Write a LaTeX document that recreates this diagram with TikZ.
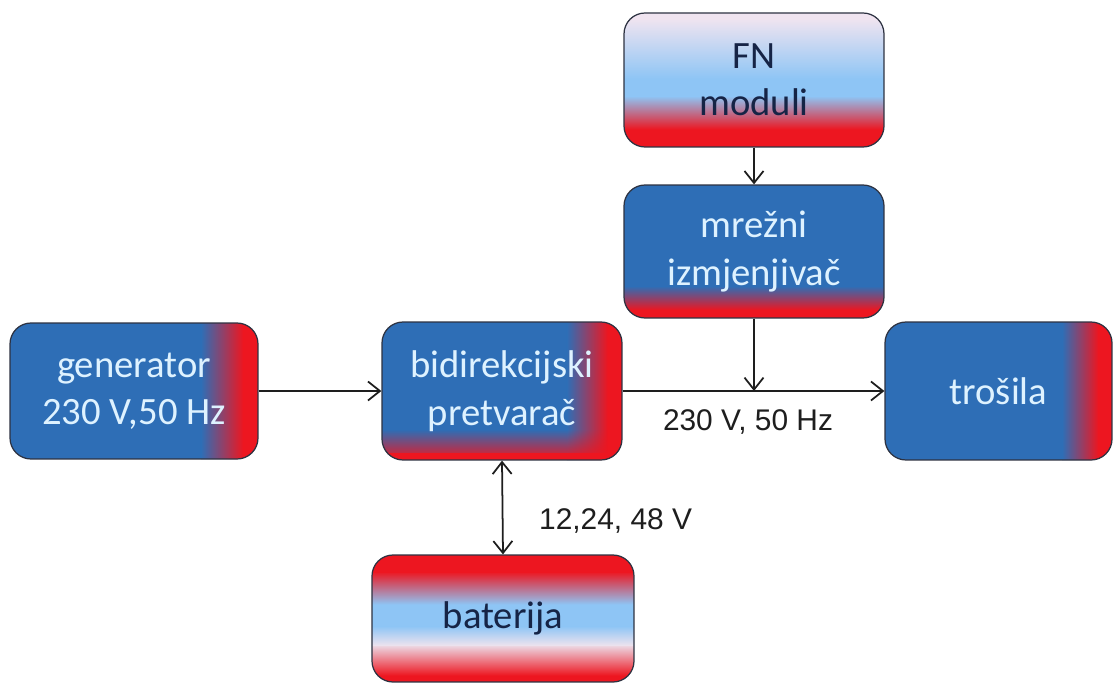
\documentclass[tikz,border=0pt]{standalone}
\usepackage{fontspec}
\setmainfont{Carlito}
\newfontfamily\lblfont{Liberation Sans}
\usepackage{tikz}
\usetikzlibrary{positioning,calc,fadings,arrows.meta}

\definecolor{pvblue}{RGB}{46,110,182}
\definecolor{pvred}{RGB}{237,22,32}
\definecolor{pvlight}{RGB}{142,197,245}
\definecolor{pvpink}{RGB}{240,228,240}
\definecolor{pvpale}{RGB}{236,226,238}
\definecolor{txtlight}{RGB}{222,242,255}
\definecolor{txtdark}{RGB}{22,36,70}
\definecolor{boxline}{RGB}{45,50,65}
\definecolor{wire}{RGB}{30,30,30}

\tikzfading[name=fadeup, top color=transparent!100, bottom color=transparent!0]

% corners of the box, for the colour bands
\newcommand{\boxcorners}{\tikzset{sharp corners}%
  \path (path picture bounding box.south west) coordinate (bl)
  (path picture bounding box.south east) coordinate (br)
  (path picture bounding box.north west) coordinate (tl)
  (path picture bounding box.north east) coordinate (tr);}
% vertical band: from, to (part of height), lower colour, upper colour
\newcommand{\vband}[4]{\shade[bottom color=#3, top color=#4]
  ($(bl)!#1!(tl)$) rectangle ($(br)!#2!(tr)$);}
% horizontal band: from, to (part of width), left colour, right colour
\newcommand{\hband}[4]{\shade[left color=#3, right color=#4]
  ($(bl)!#1!(br)$) rectangle ($(tl)!#2!(tr)$);}

\tikzset{
  block/.style={draw=boxline, line width=0.7pt, rounded corners=0.42cm,
    inner sep=0pt, align=center, font=\fontsize{22}{27}\selectfont},
  darkblock/.style={block, text=txtlight},
  lightblock/.style={block, text=txtdark},
  sidered/.style={path picture={\boxcorners
    \fill[pvblue] (bl) rectangle (tr);
    \hband{#1}{0.94}{pvblue}{pvred}
    \fill[pvred] ($(bl)!0.94!(br)$) rectangle (tr);}},
  wire/.style={draw=wire, line width=1pt,
    >={Straight Barb[length=2.4mm,width=3.8mm]}},
  volt/.style={font=\lblfont\fontsize{17}{20}\selectfont, text=wire},
}

\begin{document}
\begin{tikzpicture}
\useasboundingbox[fill=white] (0,0) rectangle (22.28,-13.68);

% blocks
\node[lightblock, minimum width=5.2cm, minimum height=2.68cm,
  path picture={\boxcorners
    \fill[pvlight] (bl) rectangle (tr);
    \fill[pvred] (bl) rectangle ($(br)!0.14!(tr)$);
    \vband{0.13}{0.38}{pvred}{pvlight}
    \vband{0.51}{0.96}{pvlight}{pvpink}
    \fill[pvpink] ($(bl)!0.95!(tl)$) rectangle (tr);}]
  (fn) at (15.08,-1.6) {FN\\moduli};

\node[darkblock, minimum width=5.2cm, minimum height=2.66cm,
  path picture={\boxcorners
    \fill[pvblue] (bl) rectangle (tr);
    \fill[pvred] (bl) rectangle ($(br)!0.07!(tr)$);
    \vband{0.06}{0.24}{pvred}{pvblue}}]
  (inv) at (15.08,-5.03) {mrežni\\izmjenjivač};

\node[darkblock, sidered=0.77, minimum width=4.96cm, minimum height=2.72cm]
  (gen) at (2.68,-7.82) {generator\\230 V,50 Hz};

\node[darkblock, minimum width=4.8cm, minimum height=2.76cm,
  path picture={\boxcorners
    \fill[pvblue] (bl) rectangle (tr);
    \hband{0.77}{0.94}{pvblue}{pvred}
    \fill[pvred] ($(bl)!0.94!(br)$) rectangle (tr);
    \fill[pvred, path fading=fadeup] (bl) rectangle ($(br)!0.22!(tr)$);
    \fill[pvred] (bl) rectangle ($(br)!0.05!(tr)$);}]
  (conv) at (10.04,-7.82) {bidirekcijski\\pretvarač};

\node[darkblock, sidered=0.78, minimum width=4.54cm, minimum height=2.76cm]
  (load) at (19.97,-7.82) {trošila};

\node[lightblock, minimum width=5.24cm, minimum height=2.54cm,
  path picture={\boxcorners
    \fill[pvlight] (bl) rectangle (tr);
    \fill[pvred] (bl) rectangle ($(br)!0.06!(tr)$);
    \vband{0.05}{0.30}{pvred}{pvpale}
    \vband{0.29}{0.44}{pvpale}{pvlight}
    \vband{0.61}{0.87}{pvlight}{pvred}
    \fill[pvred] ($(bl)!0.86!(tl)$) rectangle (tr);}]
  (bat) at (10.06,-12.37) {baterija};

% point where the inverter joins the AC line
\coordinate (tap) at (inv.south |- conv.east);

% connectors
\draw[wire, ->] (fn.south) -- (inv.north);
\draw[wire, ->] (inv.south) -- (tap);
\draw[wire, ->] (gen.east) -- (conv.west);
\draw[wire, ->] (conv.east) -- (load.west);
\draw[wire, <->] (conv.south) -- (bat.north);

% voltage labels
\node[volt] (acv) at (14.96,-8.43) {230 V, 50 Hz};
\node[volt, anchor=west] (dcv) at (10.66,-10.42) {12,24, 48 V};
\end{tikzpicture}
\end{document}
